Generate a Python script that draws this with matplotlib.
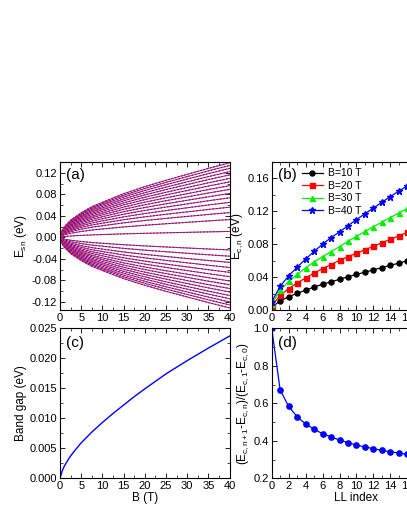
import matplotlib
matplotlib.use("Agg")
import matplotlib.pyplot as plt
from matplotlib.ticker import MultipleLocator
import numpy as np

plt.rcParams['font.family'] = ['Liberation Sans', 'DejaVu Sans']
plt.rcParams['mathtext.fontset'] = 'custom'
plt.rcParams['mathtext.rm'] = 'Liberation Sans'
plt.rcParams['mathtext.it'] = 'Liberation Sans'

# ---------------- data ----------------
# panel (a): level energies read at B = 40 T, and the fan's envelope shape
# (energy relative to its 40 T value) read along B
B_fan = [0, 0.5, 1, 2.5, 5, 7.5, 10, 15, 20, 25, 30, 35, 40]
fan_profile = [0.0, 0.09, 0.14, 0.23, 0.33, 0.41, 0.47, 0.585, 0.68, 0.765, 0.845,
               0.925, 1.0]
E_up_40 = [0.0110, 0.0330, 0.0460, 0.0560, 0.0650, 0.0735, 0.0815, 0.0890, 0.0960,
           0.1030, 0.1095, 0.1160, 0.1220, 0.1280, 0.1335, 0.1385]
E_dn_40 = [-0.0234, -0.0350, -0.0465, -0.0560, -0.0650, -0.0730, -0.0810, -0.0880,
           -0.0950, -0.1015, -0.1080, -0.1140, -0.1200, -0.1255, -0.1310]

# panel (b)
LL_index = list(range(17))
Ec_10 = [0.0032, 0.0112, 0.0160, 0.0204, 0.0240, 0.0280, 0.0312, 0.0344, 0.0372,
         0.0405, 0.0432, 0.0460, 0.0488, 0.0515, 0.0543, 0.0570, 0.0598]
Ec_20 = [0.0048, 0.0180, 0.0260, 0.0328, 0.0390, 0.0448, 0.0504, 0.0552, 0.0604,
         0.0648, 0.0690, 0.0732, 0.0775, 0.0818, 0.0860, 0.0903, 0.0945]
Ec_30 = [0.0072, 0.0240, 0.0348, 0.0432, 0.0512, 0.0584, 0.0648, 0.0710, 0.0770,
         0.0835, 0.0895, 0.0955, 0.1012, 0.1068, 0.1125, 0.1180, 0.1235]
Ec_40 = [0.0100, 0.0288, 0.0416, 0.0520, 0.0620, 0.0712, 0.0800, 0.0880, 0.0950,
         0.1025, 0.1100, 0.1170, 0.1240, 0.1310, 0.1380, 0.1445, 0.1510]

# panel (c)
B_gap = [0, 0.5, 1, 2, 3, 5, 7.5, 10, 12.5, 15, 17.5, 20, 25, 30, 35, 40]
gap = [0.0, 0.0012, 0.0020, 0.0032, 0.0042, 0.0059, 0.0077, 0.0093, 0.0108,
       0.0122, 0.0136, 0.0149, 0.0174, 0.0196, 0.0217, 0.0237]

# panel (d)
ratio = [1.0, 0.670, 0.584, 0.528, 0.490, 0.4615, 0.438, 0.4205, 0.404, 0.390,
         0.3775, 0.367, 0.358, 0.3485, 0.3415, 0.3345, 0.327]

series_labels = ['B=10 T', 'B=20 T', 'B=30 T', 'B=40 T']
series_colors = ['black', '#ff0000', '#00ee00', '#0000ff']
series_markers = ['o', 's', '^', '*']

# ---------------- figure ----------------
W, H = 407, 527
fig = plt.figure(figsize=(W / 100, H / 100), dpi=100)

def rect(l, t, r, b):
    return [l / W, 1 - b / H, (r - l) / W, (b - t) / H]

axA = fig.add_axes(rect(60, 162, 229.5, 310))
axB = fig.add_axes(rect(271.7, 162, 441.2, 310))
axC = fig.add_axes(rect(60, 328.3, 229.5, 478.3))
axD = fig.add_axes(rect(271.7, 328.3, 441.2, 478.3))

def style(ax):
    ax.tick_params(which='both', direction='in', top=True, right=True, labelsize=8,
                   pad=2)
    ax.tick_params(which='major', length=3.5, width=0.6)
    ax.tick_params(which='minor', length=2, width=0.5)
    for s in ax.spines.values():
        s.set_linewidth(0.8)

# panel (a)
prof = np.array(fan_profile)
for e40 in E_up_40 + E_dn_40:
    yv = e40 * prof
    axA.plot(B_fan, yv, color='#ff2020', lw=0.75)
    axA.plot(B_fan, yv, color='#2020ff', lw=0.75, dashes=(1.6, 1.6))
axA.set_xlim(0, 40)
axA.set_ylim(-0.135, 0.14)
axA.xaxis.set_major_locator(MultipleLocator(5))
axA.xaxis.set_minor_locator(MultipleLocator(2.5))
axA.yaxis.set_minor_locator(MultipleLocator(0.02))
axA.set_yticks([-0.12, -0.08, -0.04, 0.0, 0.04, 0.08, 0.12])
axA.set_yticklabels(['-0.12', '-0.08', '-0.04', '0.00', '0.04', '0.08', '0.12'])
axA.set_ylabel('E$_{sn}$ (eV)', fontsize=8.5, labelpad=2)
axA.text(0.035, 0.96, '(a)', transform=axA.transAxes, fontsize=11, va='top')
style(axA)

# panel (b)
for vals, lab, c, m in zip([Ec_10, Ec_20, Ec_30, Ec_40], series_labels,
                           series_colors, series_markers):
    ms = 5 if m == '*' else 3.6
    axB.plot(LL_index, vals, color=c, marker=m, ms=ms, lw=0.9, label=lab)
axB.set_xlim(0, 20)
axB.set_ylim(0, 0.18)
axB.xaxis.set_major_locator(MultipleLocator(2))
axB.xaxis.set_minor_locator(MultipleLocator(1))
axB.yaxis.set_minor_locator(MultipleLocator(0.02))
axB.set_yticks([0.0, 0.04, 0.08, 0.12, 0.16])
axB.set_yticklabels(['0.00', '0.04', '0.08', '0.12', '0.16'])
axB.set_ylabel('E$_{c,n}$ (eV)', fontsize=8.5, labelpad=2)
axB.text(0.035, 0.96, '(b)', transform=axB.transAxes, fontsize=11, va='top')
axB.legend(loc='upper left', bbox_to_anchor=(0.14, 1.0), frameon=False,
           fontsize=7.5, handlelength=2.0, handletextpad=0.5, labelspacing=0.25,
           borderaxespad=0.2)
style(axB)

# panel (c)
axC.plot(B_gap, gap, color='#0000ff', lw=1.0)
axC.set_xlim(0, 40)
axC.set_ylim(0, 0.025)
axC.xaxis.set_major_locator(MultipleLocator(5))
axC.xaxis.set_minor_locator(MultipleLocator(2.5))
axC.yaxis.set_minor_locator(MultipleLocator(0.0025))
axC.set_yticks([0, 0.005, 0.010, 0.015, 0.020, 0.025])
axC.set_yticklabels(['0.000', '0.005', '0.010', '0.015', '0.020', '0.025'])
axC.set_xlabel('B (T)', fontsize=8.5, labelpad=1)
axC.set_ylabel('Band gap (eV)', fontsize=8.5, labelpad=2)
axC.text(0.035, 0.95, '(c)', transform=axC.transAxes, fontsize=11, va='top')
style(axC)

# panel (d)
axD.plot(LL_index, ratio, color='#0000ff', marker='o', ms=3.8, lw=0.9)
axD.set_xlim(0, 20)
axD.set_ylim(0.2, 1.0)
axD.xaxis.set_major_locator(MultipleLocator(2))
axD.xaxis.set_minor_locator(MultipleLocator(1))
axD.yaxis.set_minor_locator(MultipleLocator(0.1))
axD.set_yticks([0.2, 0.4, 0.6, 0.8, 1.0])
axD.set_yticklabels(['0.2', '0.4', '0.6', '0.8', '1.0'])
axD.set_xlabel('LL index', fontsize=8.5, labelpad=1)
axD.set_ylabel('(E$_{c,n+1}$-E$_{c,n}$)/(E$_{c,1}$-E$_{c,0}$)', fontsize=8.5, labelpad=2)
axD.text(0.035, 0.95, '(d)', transform=axD.transAxes, fontsize=11, va='top')
style(axD)

fig.savefig('out.png', dpi=100)
